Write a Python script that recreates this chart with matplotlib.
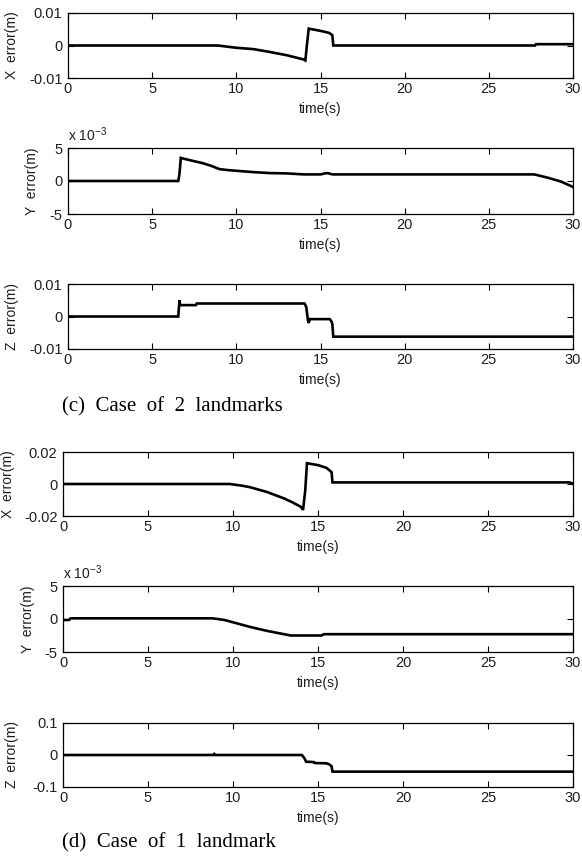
import matplotlib
matplotlib.use('Agg')
import matplotlib.pyplot as plt

plt.rcParams['font.family'] = ['Liberation Sans', 'DejaVu Sans']
plt.rcParams['mathtext.fontset'] = 'custom'
plt.rcParams['mathtext.rm'] = 'Liberation Sans'
plt.rcParams['mathtext.it'] = 'Liberation Sans:italic'

# ---------------- data ----------------
xticks = [0, 5, 10, 15, 20, 25, 30]
xlabel = 'time(s)'

# (c) Case of 2 landmarks
t_x2 = [0, 8.9, 10, 11, 12, 13, 14.0, 14.1, 14.2, 14.3, 15.0, 15.5, 15.7, 15.76, 27.75, 27.8, 30]
x_err2 = [0, 0, -0.0007, -0.0011, -0.0020, -0.0030, -0.0043, -0.0046, 0.0005, 0.0052, 0.0045, 0.0039, 0.0032, 0.0,
          0.0, 0.0004, 0.0004]

t_y2 = [0, 6.55, 6.62, 6.7, 7.0, 7.5, 8.0, 8.5, 9.0, 9.5, 10.0, 11.0, 12.0, 13.0, 14.0, 15.0, 15.35, 15.5, 15.7,
        16.0, 27.7, 28.5, 29.3, 30]
y_err2 = [0, 0, 1.0, 3.5, 3.3, 3.0, 2.7, 2.3, 1.8, 1.65, 1.55, 1.35, 1.2, 1.15, 1.0, 1.0, 1.2, 1.15, 1.0,
          1.0, 1.0, 0.5, -0.1, -0.9]  # x 10^-3

t_z2 = [0, 6.55, 6.62, 6.66, 6.7, 7.6, 7.65, 14.05, 14.15, 14.25, 14.3, 14.35, 14.4, 15.55, 15.65, 15.7, 15.76, 30]
z_err2 = [0, 0, 0.005, 0.0035, 0.0035, 0.0035, 0.004, 0.004, 0.003, -0.001, -0.002, -0.0008, -0.0008, -0.0008,
          -0.0015, -0.0022, -0.0062, -0.0062]

# (d) Case of 1 landmark
t_x1 = [0, 9.8, 10.5, 11, 11.5, 12, 12.5, 13, 13.5, 14.0, 14.12, 14.25, 14.35, 15.0, 15.5, 15.8, 15.85, 29.8,
        29.9, 30]
x_err1 = [0, 0, -0.0010, -0.0020, -0.0035, -0.0050, -0.0070, -0.0090, -0.0115, -0.0143, -0.0162, -0.004, 0.013,
          0.0118, 0.0101, 0.0074, 0.001, 0.001, 0.0004, 0.0004]

t_y1 = [0, 0.35, 0.45, 8.8, 9.5, 10, 10.5, 11, 11.5, 12, 12.5, 13, 13.4, 15.2, 15.35, 30]
y_err1 = [-0.15, -0.15, 0.1, 0.1, -0.15, -0.5, -0.85, -1.2, -1.5, -1.8, -2.05, -2.3, -2.5, -2.5, -2.3, -2.3]  # x 10^-3

t_z1 = [0, 8.85, 8.9, 8.95, 14.05, 14.2, 14.3, 14.75, 14.8, 15.5, 15.65, 15.8, 15.85, 30]
z_err1 = [0, 0, 0.003, 0, 0, -0.01, -0.021, -0.022, -0.025, -0.026, -0.029, -0.035, -0.052, -0.052]

captions = ['(c)  Case  of  2  landmarks', '(d)  Case  of  1  landmark']

# ---------------- layout ----------------
W, H = 582, 857
fig = plt.figure(figsize=(W / 100, H / 100), dpi=100)
TXT = '#1e1e1e'

panels = [
    # left, top, right, bottom, t, v, ylim, yticks, yticklabels, ylabel, ylabel_x(center px), offset
    (68, 13, 573, 78, t_x2, x_err2, (-0.01, 0.01), [-0.01, 0, 0.01], ['-0.01', '0', '0.01'], 'X  error(m)', 13, False),
    (68, 148, 573, 214, t_y2, y_err2, (-5, 5), [-5, 0, 5], ['-5', '0', '5'], 'Y  error(m)', 33, True),
    (68, 284, 573, 349, t_z2, z_err2, (-0.01, 0.01), [-0.01, 0, 0.01], ['-0.01', '0', '0.01'], 'Z  error(m)', 13, False),
    (63, 452, 573, 516, t_x1, x_err1, (-0.02, 0.02), [-0.02, 0, 0.02], ['-0.02', '0', '0.02'], 'X  error(m)', 9, False),
    (63, 586, 573, 652, t_y1, y_err1, (-5, 5), [-5, 0, 5], ['-5', '0', '5'], 'Y  error(m)', 29, True),
    (63, 723, 573, 787, t_z1, z_err1, (-0.1, 0.1), [-0.1, 0, 0.1], ['-0.1', '0', '0.1'], 'Z  error(m)', 13, False),
]

for (l, tp, r, b, t, v, ylim, yt, ytl, ylab, ylx, off) in panels:
    ax = fig.add_axes([l / W, 1 - b / H, (r - l) / W, (b - tp) / H])
    ax.plot(t, v, color='black', lw=1.9, solid_joinstyle='miter')
    ax.set_xlim(0, 30)
    ax.set_ylim(*ylim)
    ax.set_xticks(xticks)
    ax.set_xticklabels([str(x) for x in xticks])
    ax.set_yticks(yt)
    ax.set_yticklabels(ytl)
    ax.tick_params(direction='in', length=4, width=0.8, top=True, right=True,
                   labelsize=10.5, labelcolor=TXT, pad=4)
    ax.tick_params(axis='x', pad=3)
    for s in ax.spines.values():
        s.set_linewidth(0.9)
    ax.set_xlabel(xlabel, fontsize=10, color=TXT)
    ax.xaxis.set_label_coords(0.5, -(24) / (b - tp))
    ax.set_ylabel(ylab, fontsize=10, color=TXT)
    # ylabel anchor is the right edge of the rotated text; shift by half its height
    ax.yaxis.set_label_coords((ylx + 6 - l) / (r - l), 0.5)
    if off:
        ax.text(0, 1 + 13 / (b - tp), r'x 10$^{-3}$', transform=ax.transAxes, fontsize=10,
                color=TXT, ha='left', va='center')

fig.text(62 / W, 1 - 407 / H, captions[0], fontsize=15, family=['Liberation Serif', 'DejaVu Serif'],
         ha='left', va='center', color='black')
fig.text(62 / W, 1 - 843 / H, captions[1], fontsize=15, family=['Liberation Serif', 'DejaVu Serif'],
         ha='left', va='center', color='black')

fig.savefig('out.png', dpi=100)
